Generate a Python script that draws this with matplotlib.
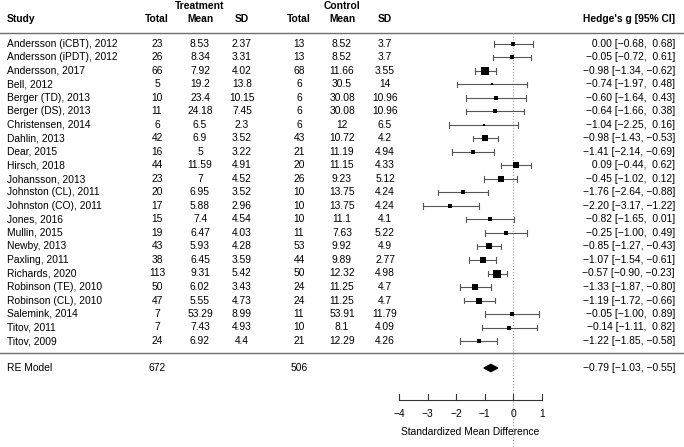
import numpy as np
import matplotlib.pyplot as plt
from matplotlib.patches import Polygon

plt.rcParams['font.family'] = ['Liberation Sans', 'DejaVu Sans']

studies = ['Andersson (iCBT), 2012', 'Andersson (iPDT), 2012', 'Andersson, 2017', 'Bell, 2012',
           'Berger (TD), 2013', 'Berger (DS), 2013', 'Christensen, 2014', 'Dahlin, 2013',
           'Dear, 2015', 'Hirsch, 2018', 'Johansson, 2013', 'Johnston (CL), 2011',
           'Johnston (CO), 2011', 'Jones, 2016', 'Mullin, 2015', 'Newby, 2013', 'Paxling, 2011',
           'Richards, 2020', 'Robinson (TE), 2010', 'Robinson (CL), 2010', 'Salemink, 2014',
           'Titov, 2011', 'Titov, 2009']
t_total = [23, 26, 66, 5, 10, 11, 6, 42, 16, 44, 23, 20, 17, 15, 19, 43, 38, 113, 50, 47, 7, 7, 24]
t_mean = [8.53, 8.34, 7.92, 19.2, 23.4, 24.18, 6.5, 6.9, 5, 11.59, 7, 6.95, 5.88, 7.4, 6.47,
          5.93, 6.45, 9.31, 6.02, 5.55, 53.29, 7.43, 6.92]
t_sd = [2.37, 3.31, 4.02, 13.8, 10.15, 7.45, 2.3, 3.52, 3.22, 4.91, 4.52, 3.52, 2.96, 4.54, 4.03,
        4.28, 3.59, 5.42, 3.43, 4.73, 8.99, 4.93, 4.4]
c_total = [13, 13, 68, 6, 6, 6, 6, 43, 21, 20, 26, 10, 10, 10, 11, 53, 44, 50, 24, 24, 11, 10, 21]
c_mean = [8.52, 8.52, 11.66, 30.5, 30.08, 30.08, 12, 10.72, 11.19, 11.15, 9.23, 13.75, 13.75, 11.1,
          7.63, 9.92, 9.89, 12.32, 11.25, 11.25, 53.91, 8.1, 12.29]
c_sd = [3.7, 3.7, 3.55, 14, 10.96, 10.96, 6.5, 4.2, 4.94, 4.33, 5.12, 4.24, 4.24, 4.1, 5.22, 4.9,
        2.77, 4.98, 4.7, 4.7, 11.79, 4.09, 4.26]
g = [0.00, -0.05, -0.98, -0.74, -0.60, -0.64, -1.04, -0.98, -1.41, 0.09, -0.45, -1.76, -2.20,
     -0.82, -0.25, -0.85, -1.07, -0.57, -1.33, -1.19, -0.05, -0.14, -1.22]
ci_low = [-0.68, -0.72, -1.34, -1.97, -1.64, -1.66, -2.25, -1.43, -2.14, -0.44, -1.02, -2.64, -3.17,
          -1.65, -1.00, -1.27, -1.54, -0.90, -1.87, -1.72, -1.00, -1.11, -1.85]
ci_high = [0.68, 0.61, -0.62, 0.48, 0.43, 0.38, 0.16, -0.53, -0.69, 0.62, 0.12, -0.88, -1.22,
           0.01, 0.49, -0.43, -0.61, -0.23, -0.80, -0.66, 0.89, 0.82, -0.58]
re_total_t = 672
re_total_c = 506
re_g, re_low, re_high = -0.79, -1.03, -0.55
x_ticks = [-4, -3, -2, -1, 0, 1]

# pixel layout helpers: 0 sits at 513.4px, one unit is 28.6px
def px(x):
    return (x - 513.4) / 28.6

fig = plt.figure(figsize=(6.84, 4.47), dpi=100)
ax = fig.add_axes([0, 0, 1, 1])
ax.set_xlim(px(0), px(684))
row_h = 13.5
ax.set_ylim((447 - 44) / row_h, -44 / row_h)
ax.axis('off')

fs = 7.35
grey = '#6e6e6e'
right_x = px(675)

def fmt(v):
    return f"{v:g}"

def mfmt(v):
    return f"{v:5.2f}".replace('-', '\u2212')

n = len(studies)
rows = np.arange(n)

# column headers
ax.text(px(200), -2.85, 'Treatment', ha='center', va='center', fontsize=fs, fontweight='bold')
ax.text(px(342), -2.85, 'Control', ha='center', va='center', fontsize=fs, fontweight='bold')
ax.text(px(7), -1.85, 'Study', ha='left', va='center', fontsize=fs, fontweight='bold')
for xp, lab in [(157, 'Total'), (200, 'Mean'), (242, 'SD'), (299, 'Total'), (342, 'Mean'), (385, 'SD')]:
    ax.text(px(xp), -1.85, lab, ha='center', va='center', fontsize=fs, fontweight='bold')
ax.text(right_x, -1.85, "Hedge's g [95% CI]", ha='right', va='center', fontsize=fs, fontweight='bold')

ax.axhline(-0.8, color=grey, lw=1)
ax.axhline(22.9, color=grey, lw=1)
ax.plot([0, 0], [-0.8, 40], color='#999999', lw=0.8, ls=':')

for i in rows:
    ax.text(px(7), i, studies[i], ha='left', va='center', fontsize=fs)
    cols = [t_total[i], t_mean[i], t_sd[i], c_total[i], c_mean[i], c_sd[i]]
    for xp, v in zip([157, 200, 242, 299, 342, 385], cols):
        ax.text(px(xp), i, fmt(v), ha='center', va='center', fontsize=fs)
    ax.text(right_x, i, f"{mfmt(g[i])} [{mfmt(ci_low[i])}, {mfmt(ci_high[i])}]",
            ha='right', va='center', fontsize=fs)

# CIs and squares sized by precision
se = (np.array(ci_high) - np.array(ci_low)) / 3.92
w = 1 / se
psize = 0.5 + (w - w.min()) / (w.max() - w.min())
cap = 0.19
for i in rows:
    ax.plot([ci_low[i], ci_high[i]], [i, i], color='#555555', lw=0.8)
    ax.plot([ci_low[i], ci_low[i]], [i - cap, i + cap], color='#555555', lw=0.8)
    ax.plot([ci_high[i], ci_high[i]], [i - cap, i + cap], color='#555555', lw=0.8)
    ax.plot(g[i], i, marker='s', color='black', ms=3.9 * psize[i], mew=0)

# summary
ys = 24
ax.text(px(7), ys, 'RE Model', ha='left', va='center', fontsize=fs)
ax.text(px(157), ys, str(re_total_t), ha='center', va='center', fontsize=fs)
ax.text(px(299), ys, str(re_total_c), ha='center', va='center', fontsize=fs)
ax.add_patch(Polygon([(re_low, ys), (re_g, ys - 0.27), (re_high, ys), (re_g, ys + 0.27)],
                     closed=True, color='black'))
ax.text(right_x, ys, f"{mfmt(re_g)} [{mfmt(re_low)}, {mfmt(re_high)}]",
        ha='right', va='center', fontsize=fs)

# x axis
ya = 26.4
ax.plot([x_ticks[0], x_ticks[-1]], [ya, ya], color='#333333', lw=0.8)
for t in x_ticks:
    ax.plot([t, t], [ya, ya - 0.45], color='#333333', lw=0.8)
    ax.text(t, ya + 1.0, f"{t}".replace('-', '\u2212'), ha='center', va='center', fontsize=fs)
ax.text(np.mean([x_ticks[0], x_ticks[-1]]), ya + 2.35, 'Standardized Mean Difference',
        ha='center', va='center', fontsize=fs)

fig.savefig('out.png', dpi=100)
